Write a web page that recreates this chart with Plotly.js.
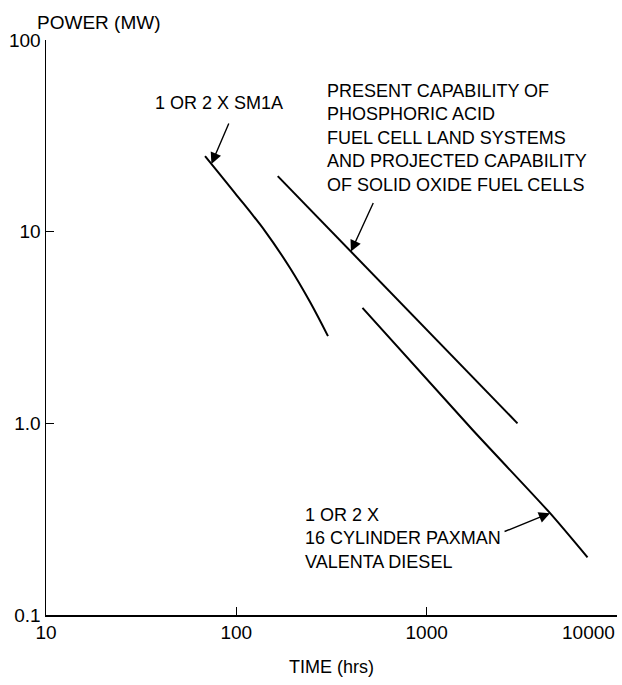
<!DOCTYPE html>
<html>
<head>
<meta charset="utf-8">
<script src="https://cdn.plot.ly/plotly-3.0.1.min.js"></script>
<style>
  html, body { margin: 0; padding: 0; background: #fff; }
  #chart { width: 622px; height: 685px; }
</style>
</head>
<body>
<div id="chart"></div>
<script>
// ---- data ----
const sm1aTime  = [68.5, 98.4, 141.5, 191.5, 244, 303];
const sm1aPower = [24.8, 15.9, 10.07, 6.46, 4.29, 2.85];

const fuelCellTime  = [165, 3000];
const fuelCellPower = [19.5, 1.0];

const dieselTime  = [460, 1750, 4450, 7000];
const dieselPower = [4.0, 0.92, 0.34, 0.2];

const xTickVals = [10, 100, 1000, 10000];
const xTickText = ['10', '100', '1000', ''];
const xLastTickText = '10000';
const yTickVals = [0.1, 1, 10, 100];
const yTickText = ['0.1', '1.0', '10', '100'];

const sm1aLabel = '1 OR 2 X SM1A';
const fuelCellLabel = 'PRESENT CAPABILITY OF<br>PHOSPHORIC ACID<br>FUEL CELL LAND SYSTEMS<br>AND PROJECTED CAPABILITY<br>OF SOLID OXIDE FUEL CELLS';
const dieselLabel = '1 OR 2 X<br>16 CYLINDER PAXMAN<br>VALENTA DIESEL';

// ---- helpers ----
const L = Math.log10;
function onLine(xs, ys, x) {
  for (let i = 0; i < xs.length - 1; i++) {
    if (x >= xs[i] && x <= xs[i + 1]) {
      const t = (L(x) - L(xs[i])) / (L(xs[i + 1]) - L(xs[i]));
      return L(ys[i]) + t * (L(ys[i + 1]) - L(ys[i]));
    }
  }
  return L(ys[ys.length - 1]);
}

const FONT = 'Liberation Sans, Arial, Helvetica, sans-serif';
const lineStyle = { color: '#000', width: 2 };
const labelFont = { family: FONT, size: 18, color: '#000' };
const tickFont = { family: FONT, size: 19, color: '#000' };

const traces = [
  { x: sm1aTime, y: sm1aPower, mode: 'lines', line: Object.assign({ shape: 'spline', smoothing: 1 }, lineStyle), hoverinfo: 'skip' },
  { x: fuelCellTime, y: fuelCellPower, mode: 'lines', line: lineStyle, hoverinfo: 'skip' },
  { x: dieselTime, y: dieselPower, mode: 'lines', line: Object.assign({ shape: 'spline', smoothing: 0.6 }, lineStyle), hoverinfo: 'skip' }
];

const arrowBase = { showarrow: true, arrowhead: 2, arrowsize: 1.6, arrowwidth: 1.4, arrowcolor: '#000', text: '', xref: 'x', yref: 'y', axref: 'pixel', ayref: 'pixel' };

const annotations = [
  { text: 'POWER (MW)', xref: 'paper', yref: 'paper', x: -0.02, y: 1.03, xanchor: 'left', yanchor: 'middle', showarrow: false, font: { family: FONT, size: 19, color: '#000' } },
  { text: xLastTickText, xref: 'paper', yref: 'paper', x: 1.0, y: -0.031, xanchor: 'right', yanchor: 'middle', showarrow: false, font: tickFont },
  { text: sm1aLabel, xref: 'paper', yref: 'paper', x: 0.187, y: 0.89, xanchor: 'left', yanchor: 'middle', showarrow: false, font: labelFont },
  { text: fuelCellLabel, xref: 'paper', yref: 'paper', x: 0.488, y: 0.830, xanchor: 'left', yanchor: 'middle', align: 'left', showarrow: false, font: labelFont },
  { text: dieselLabel, xref: 'paper', yref: 'paper', x: 0.45, y: 0.133, xanchor: 'left', yanchor: 'middle', align: 'left', showarrow: false, font: labelFont },
  Object.assign({}, arrowBase, { x: L(74), y: onLine(sm1aTime, sm1aPower, 74), ax: 18, ay: -42 }),
  Object.assign({}, arrowBase, { x: L(400), y: onLine(fuelCellTime, fuelCellPower, 400), ax: 23, ay: -50 }),
  Object.assign({}, arrowBase, { x: L(4450), y: onLine(dieselTime, dieselPower, 4450), ax: -47, ay: 19 })
];

const axisCommon = {
  type: 'log', showgrid: false, zeroline: false, showline: true,
  linecolor: '#000', linewidth: 1.5, ticks: 'inside', ticklen: 8, tickwidth: 1.5, tickcolor: '#000',
  tickfont: tickFont, tickmode: 'array', fixedrange: true
};

const layout = {
  width: 622, height: 685,
  margin: { l: 46, r: 5, t: 40, b: 70 },
  paper_bgcolor: '#fff', plot_bgcolor: '#fff',
  showlegend: false,
  xaxis: Object.assign({}, axisCommon, {
    range: [1, 4], tickvals: xTickVals, ticktext: xTickText,
    title: { text: 'TIME (hrs)', font: { family: FONT, size: 18, color: '#000' }, standoff: 18 }
  }),
  yaxis: Object.assign({}, axisCommon, {
    range: [-1, 2], tickvals: yTickVals, ticktext: yTickText
  }),
  annotations: annotations
};

Plotly.newPlot('chart', traces, layout, { staticPlot: true, displayModeBar: false });
</script>
</body>
</html>
